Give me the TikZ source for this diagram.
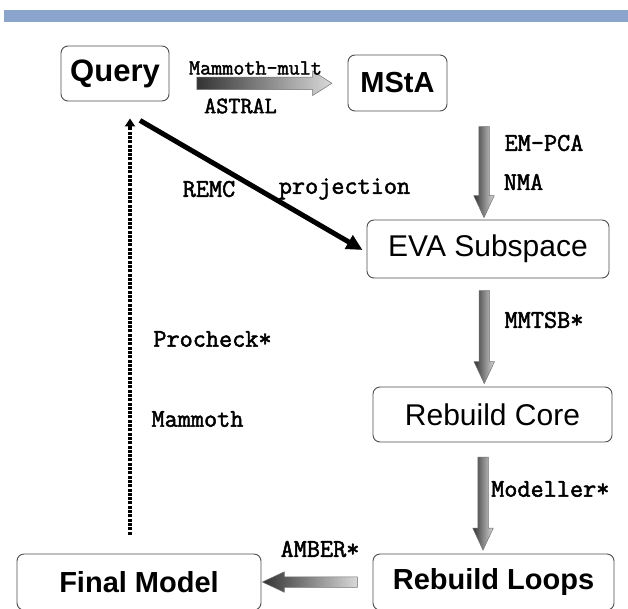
\documentclass[tikz,border=0pt]{standalone}
\usepackage{fontspec}
\newfontfamily\boxfont{Liberation Sans}
\newfontfamily\toolfont{Latin Modern Mono}[FakeBold=2]
\usetikzlibrary{arrows.meta,shapes.arrows,calc}
\definecolor{barblue}{RGB}{139,165,205}
\tikzset{x=1pt, y=-1pt,
    box/.style={draw=black!70, line width=0.9pt, rounded corners=7pt,
        minimum height=56pt, inner sep=0pt,
        font=\boxfont\fontsize{30}{32}\selectfont},
    heavy/.style={font=\boxfont\bfseries\fontsize{29}{32}\selectfont},
    flow/.style={single arrow, draw=black!55, line width=0.5pt,
        inner xsep=0pt, inner ysep=5pt, single arrow head extend=5pt,
        single arrow tip angle=50, left color=black!80, right color=black!15,
        minimum height=#1},
    wide/.style={inner ysep=6pt, single arrow head extend=6pt, single arrow tip angle=65},
    tool/.style={font=\toolfont\bfseries\fontsize{#1}{#1}\selectfont, inner sep=0pt},
    tool/.default=25.5,
    back/.style={line width=4.5pt, dash pattern=on 3pt off 1.3pt,
        -{Triangle[length=8pt,width=10pt]}},
    remc/.style={line width=5pt, -{Triangle[length=16pt,width=15pt]}},
    }

\begin{document}
\begin{tikzpicture}
\clip (0,0) rectangle (628,608);
\fill[barblue] (4,10) rectangle (628,22);

\node[box, heavy, font=\boxfont\bfseries\fontsize{31}{32}\selectfont,
    minimum width=108pt, minimum height=55pt] (query) at (115,73.5) {Query};
\node[box, heavy, minimum width=99pt] (msta) at (397.5,83) {MStA};
\node[box, minimum width=242pt, minimum height=58pt] (eva) at (488,249) {EVA Subspace};
\node[box, minimum width=239pt, minimum height=55pt] (core) at (492.5,414.5) {Rebuild Core};
\node[box, heavy, minimum width=241pt] (loops) at (493.5,582) {Rebuild Loops};
\node[box, heavy, minimum width=244pt] (final) at (139,582) {Final Model};

% block arrows
\node[flow=135pt, wide] (toMsta) at ($(query.east)!0.5!(msta.west)+(1,5)$) {};
\node[flow=91pt, rotate=-90] (toEva) at ($(msta.south -| eva.north)!0.5!(eva.north)+(-4,1)$) {};
\node[flow=93pt, rotate=-90] (toCore) at ($(eva.south)!0.5!(core.north)+(-6,-1)$) {};
\node[flow=93pt, rotate=-90] (toLoops) at ($(core.south)!0.5!(loops.north)+(-10,0)$) {};
\node[flow=95pt, rotate=180] (toFinal) at ($(loops.west)!0.5!(final.east)+(-1.5,0)$) {};

\draw[back] ([xshift=-9pt,yshift=19pt]final.north) -- ([xshift=15pt,yshift=-17pt]query.south);
\draw[remc] ([xshift=25pt,yshift=-19pt]query.south) -- ([xshift=-4pt,yshift=-1pt]eva.west);

% tool labels
\node[tool=21.5] (mult) at (255.5,68) {Mammoth-mult};
\node[tool=23.5] (astral) at (240.5,106) {ASTRAL};
\node[tool] (empca) at (544,143) {EM-PCA};
\node[tool] (nma) at (523.5,182) {NMA};
\node[tool] (remcl) at (209,189) {REMC};
\node[tool] (proj) at (344.5,189) {projection};
\node[tool] (mmtsb) at (544,320) {MMTSB*};
\node[tool] (procheck) at (212.5,339) {Procheck*};
\node[tool] (mammoth) at (197.5,419) {Mammoth};
\node[tool, anchor=west] (modeller) at (491,489) {Modeller*};
\node[tool] (amber) at (320,549) {AMBER*};
\end{tikzpicture}
\end{document}
